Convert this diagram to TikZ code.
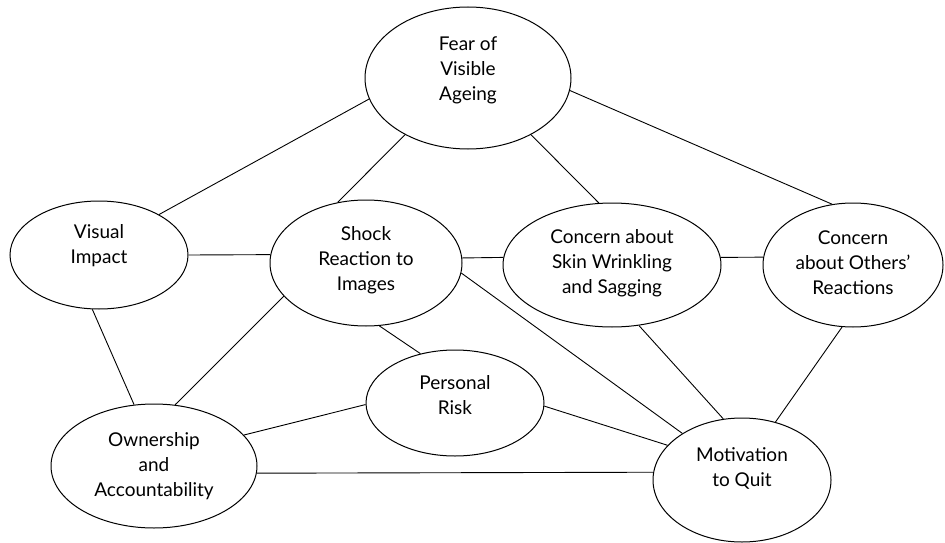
\documentclass[tikz,border=0pt]{standalone}
\usepackage{fontspec}
\setmainfont{Lato}
\usetikzlibrary{shapes.geometric}
\begin{document}
\begin{tikzpicture}[x=1pt,y=-1pt,
  oval/.style={draw=black,line width=1pt,ellipse,inner sep=0pt,minimum width=#1},
  lbl/.style={align=center,font=\fontsize{19}{25}\selectfont,inner sep=0pt},
  link/.style={draw=black,line width=0.9pt}]
\useasboundingbox (0,0) rectangle (945,543);
\fill[white] (0,0) rectangle (945,543);
% ellipses
\node[oval=206pt,minimum height=142pt] (fear) at (468,78) {};
\node[oval=178pt,minimum height=108pt] (vis) at (99,255) {};
\node[oval=192pt,minimum height=126pt] (shock) at (366,263) {};
\node[oval=218pt,minimum height=124pt] (skin) at (612,265) {};
\node[oval=180pt,minimum height=124pt] (oth) at (853,265) {};
\node[oval=178pt,minimum height=106pt] (pers) at (455,403) {};
\node[oval=206pt,minimum height=124pt] (own) at (154,466) {};
\node[oval=178pt,minimum height=124pt] (mot) at (742,480) {};
% texts
\node[lbl] (fearT) at (468,70) {Fear of\\Visible\\Ageing};
\node[lbl] (visT) at (99,246) {Visual\\Impact};
\node[lbl] (shockT) at (366,260) {Shock\\Reaction to\\Images};
\node[lbl] (skinT) at (612,263) {Concern about\\Skin Wrinkling\\and Sagging};
\node[lbl] (othT) at (853,263) {Concern\\about Others'\\Reactions};
\node[lbl] (persT) at (455,395) {Personal\\Risk};
\node[lbl] (ownT) at (154,466) {Ownership\\and\\Accountability};
\node[lbl] (motT) at (742,468) {Motivation\\to Quit};
% connectors
\draw[link] (fear.192.2) -- (vis.34.1);
\draw[link] (fear.222.6) -- (shock.115);
\draw[link] (fear.318.4) -- (skin.102.9);
\draw[link] (fear.353.4) -- (oth.109.5);
\draw[link] (vis.0) -- (shock.175.2);
\draw[link] (vis.263.7) -- (own.108.2);
\draw[link] (shock.202.3) -- (own.71.8);
\draw[link] (shock.3) -- (skin.176.3);
\draw[link] (shock.282.5) -- (pers.125);
\draw[link] (shock.354.6) -- (mot.142.4);
\draw[link] (skin.4.2) -- (oth.175);
\draw[link] (skin.294.7) -- (mot.107.9);
\draw[link] (oth.260.8) -- (mot.60);
\draw[link] (pers.181.3) -- (own.19);
\draw[link] (pers.358) -- (mot.155.6);
\draw[link] (own.356) -- (mot.175.5);
\end{tikzpicture}
\end{document}
